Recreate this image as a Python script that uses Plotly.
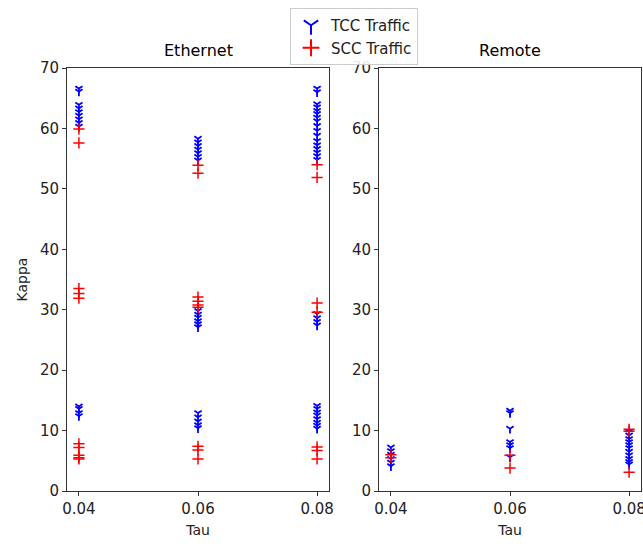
import plotly.graph_objects as go

# ---------------- data ----------------
tau_values = [0.04, 0.06, 0.08]
tau_labels = ["0.04", "0.06", "0.08"]
kappa_ticks = [0, 10, 20, 30, 40, 50, 60, 70]

# Ethernet, TCC traffic
eth_tcc_004 = [66.6, 66.1, 63.9, 63.3, 62.7, 62.1, 61.5, 60.9, 60.3, 14.0, 13.6, 12.9, 12.4]
eth_tcc_006 = [58.3, 57.7, 57.1, 56.5, 55.9, 55.3, 54.7, 29.8, 29.2, 28.7, 28.1, 27.6, 27.1,
               12.9, 12.2, 11.5, 10.9, 10.4]
eth_tcc_008 = [66.6, 66.0, 64.0, 63.5, 62.9, 62.4, 61.8, 61.2, 60.4, 59.6, 58.8, 57.9, 57.2,
               56.6, 56.0, 55.4, 54.8, 29.3, 28.6, 28.0, 27.4,
               14.1, 13.6, 13.0, 12.5, 11.9, 11.3, 10.8, 10.3]
# Ethernet, SCC traffic
eth_scc_004 = [59.9, 57.6, 33.5, 32.7, 31.9, 7.8, 7.2, 5.9, 5.5, 5.3]
eth_scc_006 = [53.9, 52.6, 32.1, 31.4, 30.8, 30.4, 7.4, 6.8, 5.3]
eth_scc_008 = [54.0, 51.9, 31.1, 29.6, 7.3, 6.7, 5.3]

# Remote, TCC traffic
rem_tcc_004 = [7.2, 6.6, 6.0, 5.3, 4.7, 4.1]
rem_tcc_006 = [13.3, 12.9, 10.3, 8.1, 7.6, 7.1, 5.6]
rem_tcc_008 = [9.8, 9.2, 8.6, 8.1, 7.6, 7.1, 6.5, 5.9, 5.3, 4.8, 4.4]
# Remote, SCC traffic
rem_scc_004 = [6.0, 5.5]
rem_scc_006 = [5.9, 3.8]
rem_scc_008 = [10.2, 9.9, 3.1]

panels = [
    ("Ethernet", [eth_tcc_004, eth_tcc_006, eth_tcc_008], [eth_scc_004, eth_scc_006, eth_scc_008]),
    ("Remote", [rem_tcc_004, rem_tcc_006, rem_tcc_008], [rem_scc_004, rem_scc_006, rem_scc_008]),
]

# ---------------- figure ----------------
FONT = "DejaVu Sans"
W, H = 643, 548
ML, MR, MT = 67, 2, 68
ph = 423
MB = H - MT - ph
pw = W - ML - MR
domains = [[0, 262 / pw], [312 / pw, 1]]

fig = go.Figure()


def flatten(groups):
    xs, ys = [], []
    for t, vals in zip(tau_values, groups):
        xs += [t] * len(vals)
        ys += list(vals)
    return xs, ys


for i, (title, tcc, scc) in enumerate(panels):
    xa = "x" if i == 0 else "x2"
    ya = "y" if i == 0 else "y2"
    x, y = flatten(tcc)
    fig.add_trace(go.Scatter(
        x=x, y=y, mode="markers", name="TCC Traffic", xaxis=xa, yaxis=ya,
        showlegend=(i == 0),
        marker=dict(symbol="y-down", size=6, color="#0000ff",
                    line=dict(color="#0000ff", width=1.8)),
    ))
    x, y = flatten(scc)
    fig.add_trace(go.Scatter(
        x=x, y=y, mode="markers", name="SCC Traffic", xaxis=xa, yaxis=ya,
        showlegend=(i == 0),
        marker=dict(symbol="cross-thin", size=8, color="#ff0000",
                    line=dict(color="#ff0000", width=1.5)),
    ))
    fig.add_annotation(
        text=title, xref="paper", yref="paper",
        x=sum(domains[i]) / 2, y=1, yshift=6, xanchor="center", yanchor="bottom",
        showarrow=False, font=dict(family=FONT, size=16, color="#000000"),
    )

axis_common = dict(
    showline=True, linecolor="#333333", linewidth=1, mirror=True,
    ticks="outside", ticklen=4, tickwidth=1, tickcolor="#333333",
    showgrid=False, zeroline=False, ticklabeloverflow="allow",
    tickfont=dict(family=FONT, size=15, color="#222222"),
)

title_font = dict(family=FONT, size=14, color="#222222")

fig.update_layout(
    width=W, height=H,
    margin=dict(l=ML, r=MR, t=MT, b=MB, autoexpand=False),
    paper_bgcolor="white", plot_bgcolor="white",
    font=dict(family=FONT, size=14, color="#222222"),
    xaxis=dict(domain=domains[0], range=[0.038, 0.082], tickvals=tau_values, ticktext=tau_labels,
               title=dict(text="Tau", font=title_font, standoff=8), **axis_common),
    xaxis2=dict(domain=domains[1], range=[0.038, 0.082], tickvals=tau_values, ticktext=tau_labels,
                anchor="y2",
                title=dict(text="Tau", font=title_font, standoff=8), **axis_common),
    yaxis=dict(range=[0, 70], tickvals=kappa_ticks, anchor="x",
               title=dict(text="Kappa", font=title_font, standoff=9), **axis_common),
    yaxis2=dict(range=[0, 70], tickvals=kappa_ticks, anchor="x2", **axis_common),
    legend=dict(
        x=(354 - ML) / pw, y=1 + (MT - 8) / ph, xanchor="center", yanchor="top",
        bgcolor="rgba(255,255,255,0.9)", bordercolor="#cccccc", borderwidth=1,
        font=dict(family=FONT, size=15, color="#222222"),
        tracegroupgap=0, itemsizing="constant",
    ),
)

# remove the default page margin so the figure fills the 643x548 window exactly
fig.write_html(
    "out.html",
    config={"displayModeBar": False},
    post_script="document.body.style.margin='0';document.body.style.overflow='hidden';",
)
